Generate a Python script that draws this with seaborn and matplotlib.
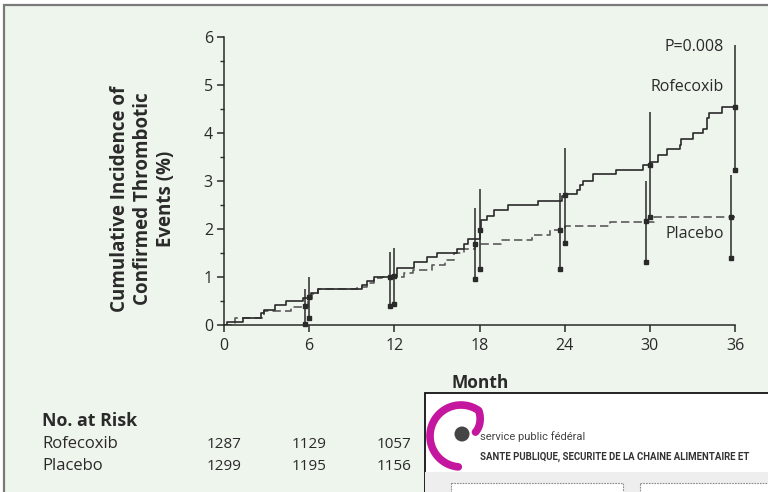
import matplotlib
matplotlib.use("Agg")
import matplotlib.pyplot as plt
import matplotlib.patches as mpatches
import matplotlib.transforms as mtrans
from matplotlib.ticker import MultipleLocator
import numpy as np
import pandas as pd
import seaborn as sns

# cumulative incidence step curves (month, %)
rofe_months = [0, 0.23, 1.36, 2.6, 2.8, 3.6, 4.4, 5.6, 5.95, 6.15, 6.6, 9.7, 10.1, 10.6,
               12.2, 13.4, 14.3, 15.0, 16.4, 16.9, 17.2, 18.0, 18.1, 18.5, 19.0, 20.0,
               22.15, 23.8, 24.0, 24.9, 25.1, 25.3, 26.0, 27.6, 29.5, 30.0, 30.6, 31.2,
               32.1, 32.2, 33.05, 33.75, 34.0, 34.2, 35.05, 36.0]
rofe_pct = [0, 0.07, 0.14, 0.24, 0.31, 0.42, 0.49, 0.56, 0.60, 0.66, 0.74, 0.83, 0.92, 1.00,
            1.18, 1.31, 1.41, 1.50, 1.59, 1.69, 1.79, 1.98, 2.19, 2.27, 2.40, 2.50,
            2.59, 2.68, 2.72, 2.82, 2.92, 3.01, 3.14, 3.22, 3.33, 3.40, 3.54, 3.67,
            3.76, 3.88, 3.99, 4.08, 4.32, 4.42, 4.54, 4.54]
plac_months = [0, 0.8, 2.8, 4.7, 5.9, 6.2, 6.6, 9.4, 10.1, 10.6, 11.1, 12.7, 13.3, 14.65,
               15.6, 16.2, 16.9, 17.7, 19.5, 21.7, 23.0, 24.0, 27.2, 30.3, 36.0]
plac_pct = [0, 0.14, 0.30, 0.38, 0.55, 0.65, 0.74, 0.80, 0.87, 0.97, 1.00, 1.08, 1.15, 1.25,
            1.35, 1.50, 1.58, 1.69, 1.77, 1.87, 1.97, 2.06, 2.14, 2.25, 2.25]

# point estimates with 95% CI at 6-month marks
ci_months = [6, 12, 18, 24, 30, 36]
rofe_est = [0.58, 1.02, 1.98, 2.70, 3.34, 4.54]
rofe_lo = [0.14, 0.44, 1.16, 1.70, 2.25, 3.23]
rofe_hi = [0.99, 1.61, 2.83, 3.69, 4.43, 5.84]
plac_est = [0.40, 0.99, 1.68, 1.98, 2.16, 2.25]
plac_lo = [0.03, 0.40, 0.95, 1.16, 1.31, 1.40]
plac_hi = [0.74, 1.53, 2.43, 2.76, 3.01, 3.13]

# numbers at risk (only the first columns are visible)
risk_months = [0, 6, 12]
risk_rofe = [1287, 1129, 1057]
risk_plac = [1299, 1195, 1156]

W, H = 768, 492
BG = "#eef5ec"
INK = "#2a2a2a"

sns.set_theme(style="ticks")
plt.rcParams["font.family"] = ["Open Sans", "DejaVu Sans"]

fig = plt.figure(figsize=(W / 100, H / 100), dpi=100)
fig.patch.set_facecolor("white")


def fx(px):
    return px / W


def fy(py):
    return 1 - py / H


# panel background with grey frame (top and left edges visible)
bg = fig.add_axes([0, 0, 1, 1], zorder=-1)
bg.set_xlim(0, W)
bg.set_ylim(H, 0)
bg.axis("off")
bg.add_patch(mpatches.Rectangle((4, 5), W + 10, H + 10, fc=BG, ec="#7a7a7a", lw=1.6))

ax = fig.add_axes([fx(224), fy(325), (735 - 224) / W, (325 - 37) / H])
ax.patch.set_alpha(0)

rofe = pd.DataFrame({"month": rofe_months, "pct": rofe_pct})
plac = pd.DataFrame({"month": plac_months, "pct": plac_pct})
sns.lineplot(data=plac, x="month", y="pct", ax=ax, estimator=None, drawstyle="steps-post",
             color="#5a5a5a", lw=1.2, linestyle=(0, (5, 2.5)))
sns.lineplot(data=rofe, x="month", y="pct", ax=ax, estimator=None, drawstyle="steps-post",
             color=INK, lw=1.2)

# CI bars: line from upper to lower limit, squares at estimate and lower limit
plac_x = np.array(ci_months) - 0.3
ax.vlines(plac_x, plac_lo, plac_hi, color=INK, lw=1.1, clip_on=False)
ax.vlines(ci_months, rofe_lo, rofe_hi, color=INK, lw=1.1, clip_on=False)
for xs, est, lo in [(plac_x, plac_est, plac_lo), (ci_months, rofe_est, rofe_lo)]:
    ax.plot(xs, est, "s", color=INK, ms=3.2, clip_on=False)
    ax.plot(xs, lo, "s", color=INK, ms=3.2, clip_on=False)

ax.set_xlim(0, 36)
ax.set_ylim(0, 6)
ax.set_xticks(range(0, 37, 6))
ax.set_yticks(range(0, 7))
ax.yaxis.set_minor_locator(MultipleLocator(0.5))
ax.set_xlabel("")
ax.set_ylabel("")
sns.despine(ax=ax)
for s in ["left", "bottom"]:
    ax.spines[s].set_color(INK)
    ax.spines[s].set_linewidth(1.1)
ax.tick_params(axis="both", which="major", length=5, width=1.1, color=INK,
               labelsize=11.5, labelcolor=INK, pad=3)
ax.tick_params(axis="y", which="minor", length=3, width=1.0, color=INK)
ax.tick_params(axis="x", pad=4)

ax.text(35.2, 5.80, "P=0.008", ha="right", va="center", fontsize=11.5, color=INK)
ax.text(35.2, 4.96, "Rofecoxib", ha="right", va="center", fontsize=11.5, color=INK)
ax.text(35.2, 1.90, "Placebo", ha="right", va="center", fontsize=11.5, color=INK)

fig.text(fx(143), fy(199), "Cumulative Incidence of\nConfirmed Thrombotic\nEvents (%)",
         rotation=90, ha="center", va="center", fontsize=13.5, fontweight="bold",
         color=INK, linespacing=1.2)
fig.text(fx(480), fy(383), "Month", ha="center", va="center", fontsize=12.5,
         fontweight="bold", color=INK)

# number at risk table
fig.text(fx(42), fy(421), "No. at Risk", ha="left", va="center", fontsize=12.8,
         fontweight="bold", color=INK)
fig.text(fx(42), fy(444), "Rofecoxib", ha="left", va="center", fontsize=12, color=INK)
fig.text(fx(42), fy(466), "Placebo", ha="left", va="center", fontsize=12, color=INK)
tr = mtrans.blended_transform_factory(ax.transData, fig.transFigure)
for m, r, p in zip(risk_months, risk_rofe, risk_plac):
    ax.text(m, fy(445), str(r), transform=tr, ha="center", va="center", fontsize=11,
            color=INK, clip_on=False)
    ax.text(m, fy(467), str(p), transform=tr, ha="center", va="center", fontsize=11,
            color=INK, clip_on=False)

# web page screenshot pasted over the lower right corner
ov = fig.add_axes([0, 0, 1, 1], zorder=10)
ov.set_xlim(0, W)
ov.set_ylim(H, 0)
ov.axis("off")
ov.patch.set_alpha(0)
ov.add_patch(mpatches.Rectangle((424.5, 392.5), 360, 120, fc="white", ec="#111111", lw=1.3))
ov.add_patch(mpatches.Rectangle((425.3, 472), 360, 40, fc="#eeeeee", ec="none"))
ov.add_patch(mpatches.Rectangle((451, 483), 172, 30, fc="white", ec="#8a8a8a", lw=0.8,
                                ls=(0, (1.5, 1))))
ov.add_patch(mpatches.Rectangle((640, 483), 160, 30, fc="white", ec="#8a8a8a", lw=0.8,
                                ls=(0, (1.5, 1))))
theta = np.radians(np.linspace(265, 15, 140))
rad = np.where(np.degrees(theta) >= 55, 31, 31 - (55 - np.degrees(theta)) * 0.4)
ov.plot(461 + rad * np.cos(theta), 436 - rad * np.sin(theta), color="#c4169e", lw=5.5,
        solid_capstyle="round")
ov.add_patch(mpatches.Circle((462, 434), 7.5, fc="#454545", ec="none"))
ov.text(480, 437, "service public fédéral", fontsize=8, color="#444444", va="center",
        family=["Roboto", "DejaVu Sans"])
ov.text(480, 457, "SANTE PUBLIQUE, SECURITE DE LA CHAINE ALIMENTAIRE ET",
        fontsize=6.9, fontweight="bold", color="#333333", va="center",
        family=["Roboto", "DejaVu Sans"])

fig.savefig("out.png", dpi=100)
